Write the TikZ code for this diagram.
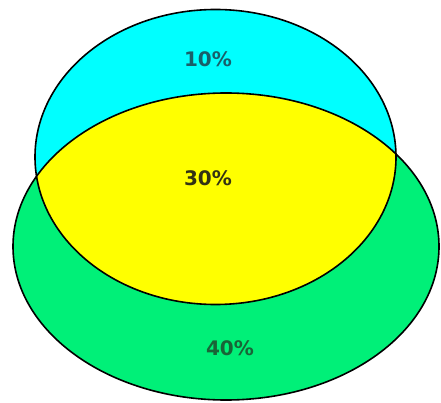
\documentclass[tikz,border=0pt]{standalone}
\usepackage{fontspec}
\setmainfont{DejaVu Sans}
\definecolor{topcyan}{RGB}{0,255,255}
\definecolor{midyellow}{RGB}{255,255,0}
\definecolor{botgreen}{RGB}{0,240,120}
\definecolor{txtteal}{RGB}{25,95,105}
\definecolor{txtdark}{RGB}{50,50,20}
\definecolor{txtgreen}{RGB}{25,100,55}
\tikzset{
  outline/.style={draw=black, line width=1.6pt},
  pct/.style={font=\fontsize{20}{22}\selectfont\bfseries, inner sep=0pt}
}
\begin{document}
\begin{tikzpicture}[x=1pt,y=-1pt]
\useasboundingbox (0,0) rectangle (441,403);
\fill[white] (0,0) rectangle (441,403);
% bottom ellipse
\fill[botgreen] (226,246.5) ellipse [x radius=213, y radius=153.5];
% top ellipse
\fill[topcyan] (215.5,157) ellipse [x radius=180.5, y radius=147.5];
% intersection
\begin{scope}
  \clip (215.5,157) ellipse [x radius=180.5, y radius=147.5];
  \fill[midyellow] (226,246.5) ellipse [x radius=213, y radius=153.5];
\end{scope}
\draw[outline] (226,246.5) ellipse [x radius=213, y radius=153.5];
\draw[outline] (215.5,157) ellipse [x radius=180.5, y radius=147.5];
\node[pct, text=txtteal] (a) at (208,59) {10\%};
\node[pct, text=txtdark] (b) at (208,178) {30\%};
\node[pct, text=txtgreen] (c) at (230,348) {40\%};
\end{tikzpicture}
\end{document}
